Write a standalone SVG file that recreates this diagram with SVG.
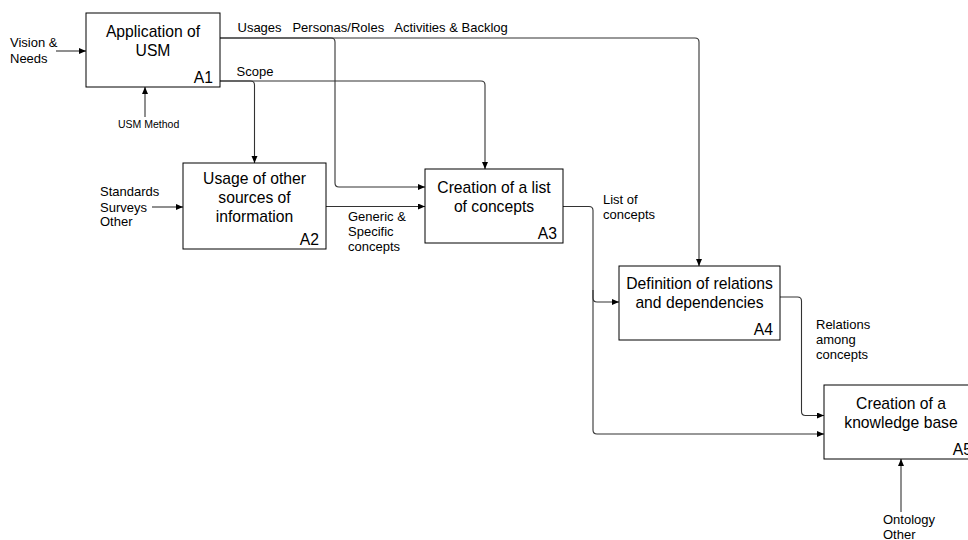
<svg xmlns="http://www.w3.org/2000/svg" width="968" height="540" viewBox="0 0 968 540">
<style>
.box{fill:#fff;stroke:#000;stroke-width:1}
.t{font-family:"Liberation Sans",Arial,sans-serif;font-size:15.7px;fill:#000;text-anchor:middle}
.id{font-family:"Liberation Sans",Arial,sans-serif;font-size:15.7px;fill:#000;text-anchor:end}
.l{font-family:"Liberation Sans",Arial,sans-serif;font-size:13px;fill:#000}
.s{font-family:"Liberation Sans",Arial,sans-serif;font-size:10.5px;fill:#000}
.c{fill:none;stroke:#333;stroke-width:1.1}
</style>
<defs>
<marker id="ah" markerUnits="userSpaceOnUse" markerWidth="8" markerHeight="8" refX="7" refY="3" orient="auto">
<path d="M0,0 L7,3 L0,6 z" fill="#000"/>
</marker>
</defs>
<rect width="968" height="540" fill="#fff"/>
<g id="connectors">
<path class="c" d="M56,51 H86" marker-end="url(#ah)"/>
<path class="c" d="M145,117 V87" marker-end="url(#ah)"/>
<path class="c" d="M220,38 H331 Q335,38 335,42 V183 Q335,187 339,187 H425" marker-end="url(#ah)"/>
<path class="c" d="M220,38 H695 Q699,38 699,42 V266" marker-end="url(#ah)"/>
<path class="c" d="M220,81 H250.5 Q254.5,81 254.5,85 V163" marker-end="url(#ah)"/>
<path class="c" d="M220,81 H481 Q485,81 485,85 V169" marker-end="url(#ah)"/>
<path class="c" d="M152,207 H183" marker-end="url(#ah)"/>
<path class="c" d="M326,206.5 H425" marker-end="url(#ah)"/>
<path class="c" d="M563,206.5 H589 Q593,206.5 593,210.5 V298 Q593,302 597,302 H619" marker-end="url(#ah)"/>
<path class="c" d="M593,290 V430 Q593,434 597,434 H824" marker-end="url(#ah)"/>
<path class="c" d="M780,297 H797.5 Q801.5,297 801.5,301 V411.5 Q801.5,415.5 805.5,415.5 H824" marker-end="url(#ah)"/>
<path class="c" d="M901,512 V459" marker-end="url(#ah)"/>
</g>
<g id="labels">
<text class="l" x="10" y="46.5">Vision &amp;</text>
<text class="l" x="10" y="62.5">Needs</text>
<text class="s" x="118" y="128">USM Method</text>
<text class="l" x="237.5" y="31.5" xml:space="preserve">Usages   Personas/Roles   Activities &amp; Backlog</text>
<text class="l" x="236.5" y="76">Scope</text>
<text class="l" x="100" y="196">Standards</text>
<text class="l" x="100" y="211.5">Surveys</text>
<text class="l" x="100" y="226">Other</text>
<text class="l" x="348" y="221">Generic &amp;</text>
<text class="l" x="348" y="236">Specific</text>
<text class="l" x="348" y="251">concepts</text>
<text class="l" x="603" y="204">List of</text>
<text class="l" x="603" y="219">concepts</text>
<text class="l" x="816" y="328.5">Relations</text>
<text class="l" x="816" y="343.5">among</text>
<text class="l" x="816" y="358.5">concepts</text>
<text class="l" x="883" y="524">Ontology</text>
<text class="l" x="883" y="538.5">Other</text>
</g>
<g id="A1">
<rect class="box" x="86" y="13" width="134" height="74"/>
<text class="t" x="153" y="37">Application of</text>
<text class="t" x="153" y="55.5">USM</text>
<text class="id" x="213" y="83">A1</text>
</g>
<g id="A2">
<rect class="box" x="183" y="163" width="143" height="86"/>
<text class="t" x="254.5" y="183.5">Usage of other</text>
<text class="t" x="254.5" y="202.5">sources of</text>
<text class="t" x="254.5" y="221.5">information</text>
<text class="id" x="319" y="244.5">A2</text>
</g>
<g id="A3">
<rect class="box" x="425" y="169" width="138" height="74"/>
<text class="t" x="494" y="192.5">Creation of a list</text>
<text class="t" x="494" y="211.5">of concepts</text>
<text class="id" x="557" y="238.5">A3</text>
</g>
<g id="A4">
<rect class="box" x="619" y="266" width="161" height="74"/>
<text class="t" x="699.5" y="289">Definition of relations</text>
<text class="t" x="699.5" y="308">and dependencies</text>
<text class="id" x="773" y="335">A4</text>
</g>
<g id="A5">
<rect class="box" x="824" y="385" width="154" height="74"/>
<text class="t" x="901" y="409">Creation of a</text>
<text class="t" x="901" y="427.5">knowledge base</text>
<text class="id" x="972" y="455">A5</text>
</g>
</svg>
